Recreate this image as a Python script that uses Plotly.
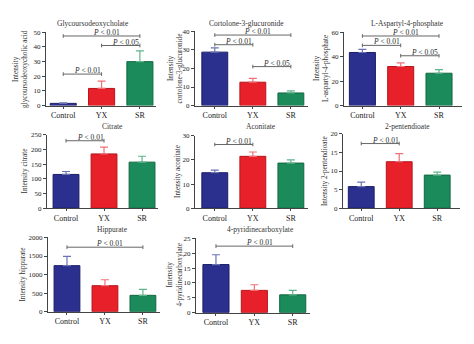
import plotly.graph_objects as go

categories = ["Control", "YX", "SR"]

titles = ["Glycoursodeoxycholate", "Cortolone-3-glucuronide", "L-Aspartyl-4-phosphate",
          "Citrate", "Aconitate", "2-pentendioate",
          "Hippurate", "4-pyridinecarboxylate"]
y_titles = ["Intensity<br>glycoursodeoxycholic acid", "Intensity<br>cortolone-3-glucuronide",
            "Intensity<br>L-aspartyl-4-phosphate", "Intensity citrate", "Intensity aconitate",
            "Intensity 2-pentendioate", "Intensity hippurate", "Intensity<br>4-pyridinecarboxylate"]

glyco_mean = [1.5, 11.7, 30.0]
glyco_err = [0.4, 5.0, 7.3]
cortolone_mean = [28.8, 12.6, 6.8]
cortolone_err = [2.3, 2.1, 1.1]
aspartyl_mean = [43.5, 32.0, 26.5]
aspartyl_err = [2.5, 3.0, 3.0]
citrate_mean = [115, 185, 157]
citrate_err = [10, 23, 20]
aconitate_mean = [14.7, 21.5, 18.7]
aconitate_err = [1.1, 1.8, 1.3]
pentendioate_mean = [5.8, 12.5, 8.9]
pentendioate_err = [1.2, 2.2, 0.8]
hippurate_mean = [1240, 700, 440]
hippurate_err = [250, 160, 160]
pyridine_mean = [16.2, 7.5, 6.0]
pyridine_err = [3.3, 1.9, 1.5]

means = [glyco_mean, cortolone_mean, aspartyl_mean, citrate_mean, aconitate_mean,
         pentendioate_mean, hippurate_mean, pyridine_mean]
errs = [glyco_err, cortolone_err, aspartyl_err, citrate_err, aconitate_err,
        pentendioate_err, hippurate_err, pyridine_err]

y_max = [50, 40, 60, 250, 30, 20, 2000, 25]
y_dtick = [10, 10, 20, 50, 10, 5, 500, 5]

# brackets: (from group, to group, height, p text)
brackets = [
    [(0, 2, 47.5, "0.01"), (1, 2, 41.0, "0.05"), (0, 1, 21.5, "0.01")],
    [(0, 2, 38.0, "0.01"), (0, 1, 32.8, "0.01"), (1, 2, 21.0, "0.05")],
    [(0, 2, 57.0, "0.01"), (0, 1, 49.3, "0.01"), (1, 2, 40.8, "0.05")],
    [(0, 1, 230, "0.01")],
    [(0, 1, 26.4, "0.01")],
    [(0, 1, 17.4, "0.01")],
    [(0, 2, 1737, "0.01")],
    [(0, 2, 22.4, "0.01")],
]

fill_colors = ["#2B2F8E", "#E8202A", "#1B8B5B"]
edge_colors = ["#1C1E66", "#B5141B", "#116840"]
err_colors = ["#6C74B0", "#F0707A", "#5FB48C"]

W, H = 474, 344
FONT = "Liberation Serif"

# layout geometry in pixels (x0, x1, ytop, ybottom, xrange left, xrange right)
geom = [
    (46, 156, 29, 104, -0.45, 2.42),
    (195, 308, 28, 104, -0.52, 2.45),
    (344, 462, 29, 104, -0.48, 2.6),
    (47, 158, 134, 209, -0.5, 2.42),
    (195, 308, 135, 209, -0.52, 2.45),
    (343, 460, 133, 209, -0.48, 2.6),
    (48, 160, 239, 315, -0.5, 2.45),
    (196, 310, 240, 316, -0.52, 2.45),
]
title_pos = [(93, 20), (247, 20), (407, 20), (112, 125), (261, 125), (407, 125), (112, 231), (260, 231)]
ytitle_x = [21, 175, 322, 25, 178, 325, 23, 175]

fig = go.Figure()
layout = dict(width=W, height=H, margin=dict(l=0, r=0, t=0, b=0),
              paper_bgcolor="white", plot_bgcolor="white", showlegend=False,
              font=dict(family=FONT, color="#333333", size=7))
annotations = []

for p in range(8):
    n = p + 1
    xa = "x" if n == 1 else f"x{n}"
    ya = "y" if n == 1 else f"y{n}"
    x0, x1, yt, yb, rl, rr = geom[p]
    ymax = y_max[p]
    for i, cat in enumerate(categories):
        fig.add_trace(go.Bar(
            x=[i], y=[means[p][i]], width=0.68,
            marker=dict(color=fill_colors[i], line=dict(color=edge_colors[i], width=1)),
            error_y=dict(type="data", symmetric=False, array=[errs[p][i]], arrayminus=[0],
                         color=err_colors[i], thickness=1.2, width=4),
            xaxis=xa, yaxis=ya, name=cat, hoverinfo="skip"))
    h = ymax * 0.025
    for (a, b, yv, ptxt) in brackets[p]:
        fig.add_trace(go.Scatter(
            x=[a, a, None, a, b, None, b, b],
            y=[yv - h, yv + h, None, yv, yv, None, yv - h, yv + h],
            mode="lines", line=dict(color="#666666", width=1),
            xaxis=xa, yaxis=ya, hoverinfo="skip"))
        annotations.append(dict(
            x=(a + b) / 2, y=yv, xref=xa, yref=ya, text=f"<i>P</i> < {ptxt}",
            showarrow=False, yanchor="bottom", xanchor="center", xshift=5, yshift=-2,
            borderpad=0,
            font=dict(family=FONT, size=7.5, color="#2a2a2a")))
    axkey = "xaxis" if n == 1 else f"xaxis{n}"
    aykey = "yaxis" if n == 1 else f"yaxis{n}"
    layout[axkey] = dict(
        domain=[x0 / W, x1 / W], anchor=ya, range=[rl, rr],
        tickmode="array", tickvals=[0, 1, 2], ticktext=categories,
        showline=True, linecolor="#444444", linewidth=1, ticks="outside", ticklen=2,
        tickcolor="#444444", showgrid=False, zeroline=False,
        tickfont=dict(family=FONT, size=8, color="#222222"), fixedrange=True)
    layout[aykey] = dict(
        domain=[1 - yb / H, 1 - yt / H], anchor=xa, range=[0, ymax],
        dtick=y_dtick[p], tick0=0,
        showline=True, linecolor="#444444", linewidth=1, ticks="outside", ticklen=3,
        tickcolor="#444444", showgrid=False, zeroline=False,
        tickfont=dict(family=FONT, size=7, color="#222222"), fixedrange=True)
    tx, ty = title_pos[p]
    annotations.append(dict(x=tx / W, y=1 - ty / H, xref="paper", yref="paper",
                            text=titles[p], showarrow=False, xanchor="center", yanchor="middle",
                            font=dict(family=FONT, size=7.5, color="#333333")))
    annotations.append(dict(x=ytitle_x[p] / W, y=1 - (yt + yb) / 2 / H, xref="paper", yref="paper",
                            text=y_titles[p], showarrow=False, textangle=-90,
                            xanchor="center", yanchor="middle",
                            font=dict(family=FONT, size=7.2, color="#333333")))

layout["annotations"] = annotations
fig.update_layout(**layout)
fig.write_html("out.html")
